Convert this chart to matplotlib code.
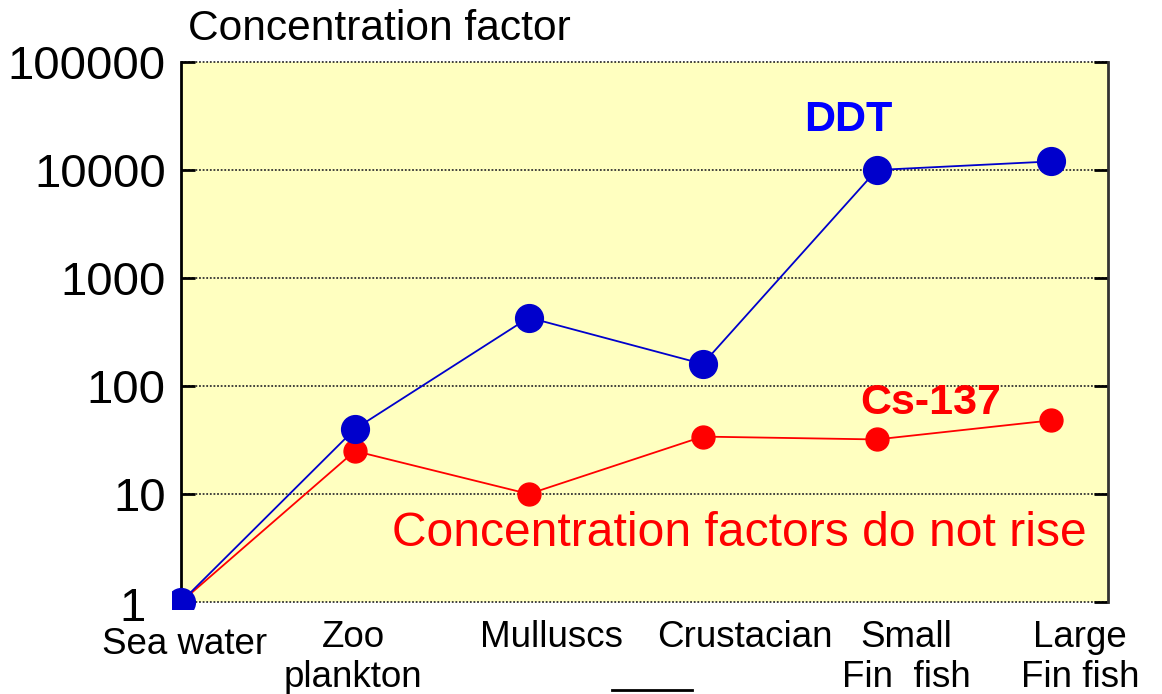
import matplotlib
matplotlib.use("Agg")
import matplotlib.pyplot as plt
from matplotlib.lines import Line2D
from matplotlib.patches import Rectangle
from matplotlib.transforms import ScaledTranslation

plt.rcParams['font.family'] = ['Liberation Sans', 'DejaVu Sans']

categories = ["Sea water", "Zoo\nplankton", "Mulluscs", "Crustacian", "Small\nFin  fish", "Large\nFin fish"]
ddt = [1, 40, 430, 160, 10000, 12000]
cs137 = [1, 25, 10, 34, 32, 48]
yticks = [1, 10, 100, 1000, 10000, 100000]
label_x = [0.02, 0.99, 2.13, 3.24, 4.17, 5.17]

fig = plt.figure(figsize=(11.62, 6.94), dpi=100)
W, H = 1162, 694
ax = fig.add_axes([181 / W, 1 - 602 / H, (1108 - 181) / W, (602 - 62) / H])
ax.set_facecolor('#FFFFC0')
ax.set_yscale('log')
ax.set_ylim(1, 100000)
ax.set_xlim(0, 5.33)

xs = list(range(len(categories)))
for y in yticks:
    ax.axhline(y, color='#333333', lw=1.3, ls=(0, (1, 1)), zorder=1, clip_on=False)

clip_rect = Rectangle((172 / W, 1 - 609 / H), 1, 609 / H, transform=fig.transFigure, visible=False)
fig.add_artist(clip_rect)

l1, = ax.plot(xs, cs137, color='#FF0000', lw=1.3, marker='o', ms=16.5, mec='#FF0000', mfc='#FF0000', zorder=3)
l2, = ax.plot(xs, ddt, color='#0000CC', lw=1.3, marker='o', ms=20, mec='#0000CC', mfc='#0000CC', zorder=4)
for ln in (l1, l2):
    ln.set_clip_on(True)
    ln.set_clip_path(clip_rect)

for s in ['top', 'bottom']:
    ax.spines[s].set_visible(False)
ax.spines['left'].set_color('black')
ax.spines['left'].set_linewidth(2)
ax.spines['right'].set_color('#333333')
ax.spines['right'].set_linewidth(2)

ax.set_yticks(yticks)
ax.set_yticklabels([str(v) for v in yticks], fontsize=34)
ax.yaxis.set_minor_locator(matplotlib.ticker.NullLocator())
ax.tick_params(axis='y', which='major', direction='in', length=10, width=2, right=True, pad=11, color='black')
ax.set_xticks([])
lab1 = ax.get_yticklabels()[0]
lab1.set_transform(lab1.get_transform() + ScaledTranslation(-0.2, -0.02, fig.dpi_scale_trans))

for lx, lab in zip(label_x, categories):
    ax.text(lx, -0.033 if lx > 0.5 else -0.046, lab, transform=ax.get_xaxis_transform(),
            ha='center', va='top', fontsize=26.5, linespacing=1.2)

fig.text(188 / W, 1 - 29 / H, "Concentration factor", ha='left', va='center', fontsize=30.6)
fig.text(848 / W, 1 - 120 / H, "DDT", ha='center', va='center', fontsize=31, fontweight='bold', color='#0000FF')
fig.text(931 / W, 1 - 403 / H, "Cs-137", ha='center', va='center', fontsize=31, fontweight='bold', color='#FF0000')
fig.text(739 / W, 1 - 533 / H, "Concentration factors do not rise", ha='center', va='center', fontsize=34.6, color='#FF0000')

fig.add_artist(Line2D([612 / W, 692 / W], [1 - 690 / H, 1 - 690 / H], color='black', lw=2))

fig.savefig('out.png', dpi=100)
